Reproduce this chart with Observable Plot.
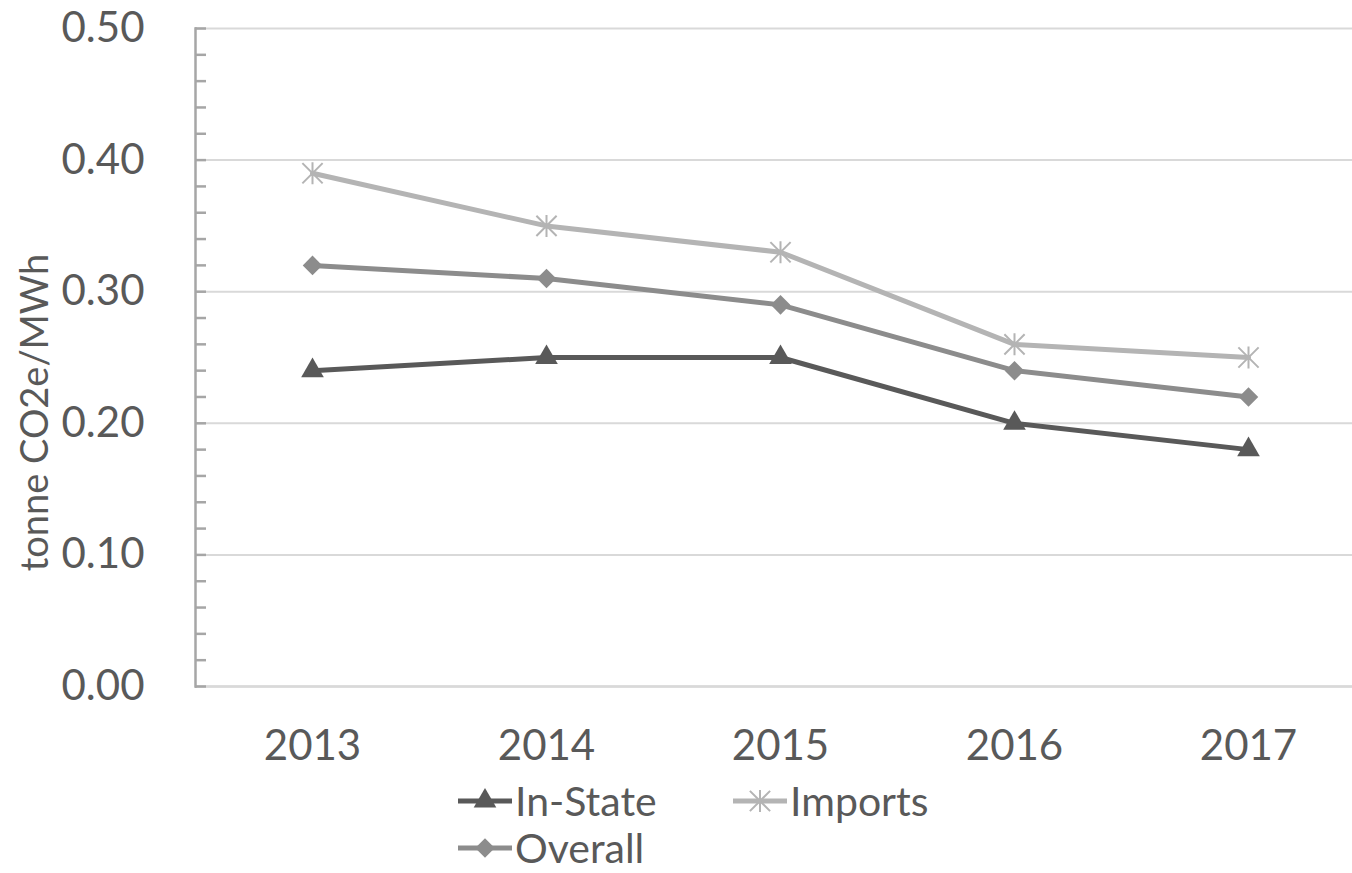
<!DOCTYPE html>
<html>
<head>
<meta charset="utf-8">
<script src="https://cdn.jsdelivr.net/npm/d3@7"></script>
<script src="https://cdn.jsdelivr.net/npm/@observablehq/plot@0.6"></script>
<style>
  html, body { margin: 0; padding: 0; background: #fff; overflow: hidden; }
  body { font-family: Lato, "Open Sans", sans-serif; color: #595959; width: 1352px; }
  #legend { display: grid; grid-template-columns: 275px 275px; row-gap: 15px; margin-left: 458px; margin-top: 15px; font-size: 41px; line-height: 32px; }
  .item { display: flex; align-items: center; height: 32px; }
  .item svg { margin-right: 3px; }
</style>
</head>
<body>
<div id="chart"></div>
<div id="legend"></div>
<script>
const years = [2013, 2014, 2015, 2016, 2017];
const inState = [0.24, 0.25, 0.25, 0.20, 0.18];
const imports = [0.39, 0.35, 0.33, 0.26, 0.25];
const overall = [0.32, 0.31, 0.29, 0.24, 0.22];
const yTicks = [0, 0.1, 0.2, 0.3, 0.4, 0.5];
const yLabel = "tonne CO2e/MWh";
const seriesNames = ["In-State", "Imports", "Overall"];
const seriesColors = ["#595959", "#b4b4b4", "#8c8c8c"];

// custom star marker (vertical bar + X)
const star = {
  draw(context, size) {
    const r = Math.sqrt(size / Math.PI);
    const d = r * 0.92;
    context.moveTo(0, -r); context.lineTo(0, r);
    context.moveTo(-d, -d); context.lineTo(d, d);
    context.moveTo(-d, d); context.lineTo(d, -d);
  }
};

const rows = (vals) => years.map((y, i) => ({year: y, value: vals[i]}));
const dIn = rows(inState), dImp = rows(imports), dOv = rows(overall);

const chart = Plot.plot({
  width: 1352,
  height: 770,
  marginLeft: 195,
  marginRight: 0,
  marginTop: 28,
  marginBottom: 84,
  style: {fontFamily: "Lato, 'Open Sans', sans-serif", fontSize: "42px", color: "#595959", background: "#fff", overflow: "visible"},
  x: {type: "band", domain: years, range: [193, 1367], padding: 0},
  y: {domain: [0, 0.5]},
  marks: [
    Plot.gridY(yTicks, {stroke: "#d9d9d9", strokeOpacity: 1, strokeWidth: 2}),
    Plot.ruleY([0], {stroke: "#d9d9d9", strokeWidth: 2.5}),
    Plot.axisY(d3.ticks(0, 0.5, 25), {tickSize: -11, text: null, stroke: "#a6a6a6", strokeWidth: 2.5, label: null}),
    Plot.frame({anchor: "left", stroke: "#a6a6a6", strokeWidth: 2.5}),
    Plot.axisY(yTicks, {tickSize: 0, tickPadding: 51, tickFormat: d3.format(".2f"), fill: "#595959", label: null, fontSize: 42}),
    Plot.axisX({tickSize: 0, tickPadding: 44, tickFormat: d => String(d), fill: "#595959", label: null, fontSize: 42}),
    Plot.text([yLabel], {frameAnchor: "left", textAnchor: "middle", dx: -160, dy: 55, rotate: -90, fontSize: 38, fill: "#595959"}),
    Plot.line(dImp, {x: "year", y: "value", stroke: seriesColors[1], strokeWidth: 5}),
    Plot.line(dOv, {x: "year", y: "value", stroke: seriesColors[2], strokeWidth: 5}),
    Plot.line(dIn, {x: "year", y: "value", stroke: seriesColors[0], strokeWidth: 5}),
    Plot.dot(dImp, {x: "year", y: "value", symbol: star, r: 11, stroke: seriesColors[1], strokeWidth: 2, fill: "none"}),
    Plot.dot(dOv, {x: "year", y: "value", symbol: "diamond2", r: 8.8, fill: seriesColors[2], stroke: "none"}),
    Plot.dot(dIn, {x: "year", y: "value", symbol: "triangle", r: 8.4, fill: seriesColors[0], stroke: "none"})
  ]
});
document.getElementById("chart").appendChild(chart);

// legend
const markerPaths = [
  d3.symbol(d3.symbolTriangle, Math.PI * 8.4 * 8.4)(),
  d3.symbol(star, Math.PI * 11 * 11)(),
  d3.symbol(d3.symbolDiamond2, Math.PI * 8.8 * 8.8)()
];
const legend = d3.select("#legend");
seriesNames.forEach((name, i) => {
  const item = legend.append("div").attr("class", "item");
  const s = item.append("svg").attr("width", 54).attr("height", 30);
  s.append("line").attr("x1", 0).attr("x2", 54).attr("y1", 15).attr("y2", 15)
    .attr("stroke", seriesColors[i]).attr("stroke-width", 5).attr("stroke-linecap", "round");
  const p = s.append("path").attr("d", markerPaths[i]).attr("transform", "translate(27,15)");
  if (i === 1) p.attr("fill", "none").attr("stroke", seriesColors[i]).attr("stroke-width", 2);
  else p.attr("fill", seriesColors[i]);
  item.append("span").text(name);
});
</script>
</body>
</html>
